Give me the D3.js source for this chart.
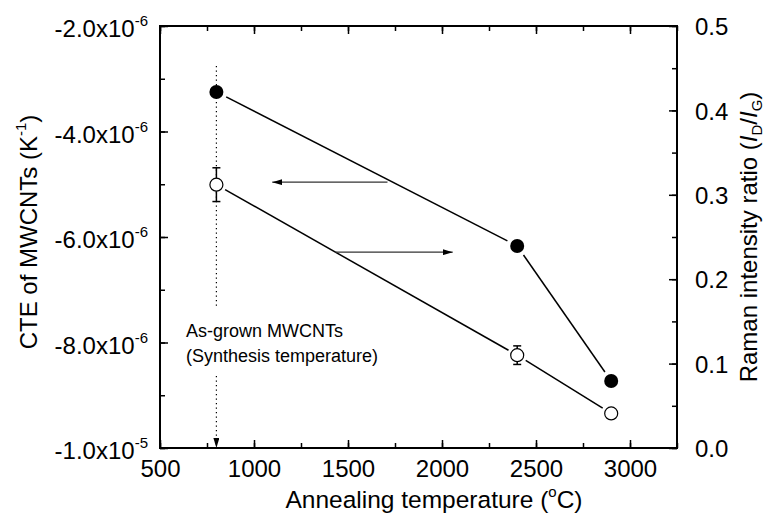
<!DOCTYPE html>
<html>
<head>
<meta charset="utf-8">
<script src="https://cdn.jsdelivr.net/npm/d3@7"></script>
<style>
  body { margin: 0; background: #fff; }
  svg { font-family: "Liberation Sans", Arial, sans-serif; }
</style>
</head>
<body>
<svg id="chart" width="769" height="518"></svg>
<script>
// data
var temps = [800, 2400, 2900];
var cteValues = [-3.25e-6, -6.17e-6, -8.73e-6];
var ramanValues = [0.312, 0.110, 0.041];
var ramanErrors = [0.02, 0.011, 0];

var xTicks = [500, 1000, 1500, 2000, 2500, 3000];
var cteTicks = [-2e-6, -4e-6, -6e-6, -8e-6, -1e-5];
var cteTickLabels = [["-2.0x10", "-6"], ["-4.0x10", "-6"], ["-6.0x10", "-6"], ["-8.0x10", "-6"], ["-1.0x10", "-5"]];
var ramanTicks = [0, 0.1, 0.2, 0.3, 0.4, 0.5];

// annotations (data units)
var synthesisTemp = 800;
var leftArrow = {from: 1710, to: 1097, y: -4.96e-6};
var rightArrow = {from: 1433, to: 2057, y: 0.232};

var margin = {top: 26, right: 92, bottom: 70, left: 160};
var width = 769 - margin.left - margin.right;
var height = 518 - margin.top - margin.bottom;

var svg = d3.select("#chart");
var defs = svg.append("defs");
defs.append("marker")
    .attr("id", "head")
    .attr("viewBox", "0 0 10 6")
    .attr("refX", 10).attr("refY", 3)
    .attr("markerWidth", 10).attr("markerHeight", 6)
    .attr("markerUnits", "userSpaceOnUse")
    .attr("orient", "auto")
    .append("path").attr("d", "M0,0L10,3L0,6Z").attr("fill", "#000");

var g = svg.append("g").attr("transform", "translate(" + margin.left + "," + margin.top + ")");

var x = d3.scaleLinear().domain([500, 3250]).range([0, width]);
var yL = d3.scaleLinear().domain([-1e-5, -2e-6]).range([height, 0]);
var yR = d3.scaleLinear().domain([0, 0.5]).range([height, 0]);

function minorTicks(scale, step) {
    var d = scale.domain(), out = [];
    for (var v = d[0]; v <= d[1] + 1e-12; v += step) out.push(v);
    return out;
}

// axes: ticks point inward
function styleAxis(sel) {
    sel.select(".domain").remove();
    sel.selectAll("line").attr("stroke", "#000").attr("stroke-width", 1.5);
    sel.selectAll("text").attr("font-size", 24).attr("fill", "#000");
}

// x bottom
var xMinor = minorTicks(x, 250);
g.append("g").attr("transform", "translate(0," + height + ")")
    .call(d3.axisBottom(x).tickValues(xMinor).tickSize(-5).tickFormat(""))
    .call(styleAxis);
g.append("g").attr("transform", "translate(0," + height + ")")
    .call(d3.axisBottom(x).tickValues(xTicks).tickSize(-8).tickPadding(22).tickFormat(d3.format("d")))
    .call(styleAxis)
    .selectAll("text").attr("dy", "0.3em");
// x top mirror
g.append("g")
    .call(d3.axisTop(x).tickValues(xMinor).tickSize(-5).tickFormat(""))
    .call(styleAxis);
g.append("g")
    .call(d3.axisTop(x).tickValues(xTicks).tickSize(-8).tickFormat(""))
    .call(styleAxis);

// left axis
g.append("g")
    .call(d3.axisLeft(yL).tickValues(minorTicks(yL, 1e-6)).tickSize(-5).tickFormat(""))
    .call(styleAxis);
var leftAx = g.append("g")
    .call(d3.axisLeft(yL).tickValues(cteTicks).tickSize(-8).tickPadding(22).tickFormat(""))
    .call(styleAxis);
leftAx.selectAll(".tick").append("text")
    .attr("x", -12).attr("dy", "0.45em")
    .attr("text-anchor", "end").attr("font-size", 24).attr("fill", "#000")
    .each(function (d, i) {
        var t = d3.select(this);
        t.append("tspan").text(cteTickLabels[i][0]);
        t.append("tspan").attr("font-size", 15).attr("dy", "-0.75em").text(cteTickLabels[i][1]);
    });

// right axis
g.append("g").attr("transform", "translate(" + width + ",0)")
    .call(d3.axisRight(yR).tickValues(minorTicks(yR, 0.05)).tickSize(-5).tickFormat(""))
    .call(styleAxis);
g.append("g").attr("transform", "translate(" + width + ",0)")
    .call(d3.axisRight(yR).tickValues(ramanTicks).tickSize(-8).tickPadding(18).tickFormat(d3.format(".1f")))
    .call(styleAxis)
    .selectAll("text").attr("dy", "0.36em");

// frame
g.append("rect").attr("width", width).attr("height", height)
    .attr("fill", "none").attr("stroke", "#000").attr("stroke-width", 2);

// dotted guide at synthesis temperature, broken around the note
var gx = x(synthesisTemp);
g.append("line").attr("x1", gx).attr("x2", gx).attr("y1", 40).attr("y2", 282)
    .attr("stroke", "#000").attr("stroke-width", 1.2).attr("stroke-dasharray", "1.2,3.3");
g.append("line").attr("x1", gx).attr("x2", gx).attr("y1", 350).attr("y2", height)
    .attr("stroke", "#000").attr("stroke-width", 1.2).attr("stroke-dasharray", "1.2,3.3")
    .attr("marker-end", "url(#head)");

var note = g.append("text").attr("x", 26).attr("y", 311).attr("font-size", 18);
note.append("tspan").attr("x", 26).text("As-grown MWCNTs");
note.append("tspan").attr("x", 26).attr("dy", 25).text("(Synthesis temperature)");

// series lines with small gaps at markers
function gappedSegments(xs, ys, gap) {
    var segs = [];
    for (var i = 0; i < xs.length - 1; i++) {
        var x1 = xs[i], y1 = ys[i], x2 = xs[i + 1], y2 = ys[i + 1];
        var dx = x2 - x1, dy = y2 - y1, len = Math.sqrt(dx * dx + dy * dy);
        var ux = dx / len, uy = dy / len;
        segs.push([x1 + ux * gap, y1 + uy * gap, x2 - ux * gap, y2 - uy * gap]);
    }
    return segs;
}

var cteX = temps.map(x), cteY = cteValues.map(yL);
var raX = temps.map(x), raY = ramanValues.map(yR);

g.selectAll(".cteSeg").data(gappedSegments(cteX, cteY, 11)).enter().append("line")
    .attr("x1", function (d) { return d[0]; }).attr("y1", function (d) { return d[1]; })
    .attr("x2", function (d) { return d[2]; }).attr("y2", function (d) { return d[3]; })
    .attr("stroke", "#000").attr("stroke-width", 1.5);
g.selectAll(".raSeg").data(gappedSegments(raX, raY, 10)).enter().append("line")
    .attr("x1", function (d) { return d[0]; }).attr("y1", function (d) { return d[1]; })
    .attr("x2", function (d) { return d[2]; }).attr("y2", function (d) { return d[3]; })
    .attr("stroke", "#000").attr("stroke-width", 1.5);

// error bars on Raman
temps.forEach(function (t, i) {
    if (!ramanErrors[i]) return;
    var cx = x(t), y1 = yR(ramanValues[i] + ramanErrors[i]), y2 = yR(ramanValues[i] - ramanErrors[i]);
    g.append("line").attr("x1", cx).attr("x2", cx).attr("y1", y1).attr("y2", y2)
        .attr("stroke", "#000").attr("stroke-width", 1.5);
    [y1, y2].forEach(function (yy) {
        g.append("line").attr("x1", cx - 4).attr("x2", cx + 4).attr("y1", yy).attr("y2", yy)
            .attr("stroke", "#000").attr("stroke-width", 1.5);
    });
});

g.selectAll(".cteDot").data(temps).enter().append("circle")
    .attr("cx", function (d) { return x(d); })
    .attr("cy", function (d, i) { return yL(cteValues[i]); })
    .attr("r", 7).attr("fill", "#000");
g.selectAll(".raDot").data(temps).enter().append("circle")
    .attr("cx", function (d) { return x(d); })
    .attr("cy", function (d, i) { return yR(ramanValues[i]); })
    .attr("r", 6.5).attr("fill", "#fff").attr("stroke", "#000").attr("stroke-width", 1.2);

// direction arrows
g.append("line")
    .attr("x1", x(leftArrow.from)).attr("x2", x(leftArrow.to))
    .attr("y1", yL(leftArrow.y)).attr("y2", yL(leftArrow.y))
    .attr("stroke", "#333").attr("stroke-width", 1.3).attr("marker-end", "url(#head)");
g.append("line")
    .attr("x1", x(rightArrow.from)).attr("x2", x(rightArrow.to))
    .attr("y1", yR(rightArrow.y)).attr("y2", yR(rightArrow.y))
    .attr("stroke", "#333").attr("stroke-width", 1.3).attr("marker-end", "url(#head)");

// axis titles
var xt = svg.append("text").attr("x", margin.left + width * 0.53).attr("y", 508)
    .attr("text-anchor", "middle").attr("font-size", 24.5);
xt.append("tspan").text("Annealing temperature (");
xt.append("tspan").attr("font-size", 15).attr("dy", "-0.75em").text("o");
xt.append("tspan").attr("dy", "0.47em").text("C)");

var lt = svg.append("text").attr("transform", "translate(37,232) rotate(-90)")
    .attr("text-anchor", "middle").attr("font-size", 24);
lt.append("tspan").text("CTE of MWCNTs (K");
lt.append("tspan").attr("font-size", 15).attr("dy", "-0.75em").text("-1");
lt.append("tspan").attr("dy", "0.47em").text(")");

var rt = svg.append("text").attr("transform", "translate(757,237) rotate(-90)")
    .attr("text-anchor", "middle").attr("font-size", 24);
rt.append("tspan").text("Raman intensity ratio (");
rt.append("tspan").attr("font-style", "italic").text("I");
rt.append("tspan").attr("font-size", 15).attr("dy", "0.35em").text("D");
rt.append("tspan").attr("dy", "-0.22em").text("/");
rt.append("tspan").attr("font-style", "italic").text("I");
rt.append("tspan").attr("font-size", 15).attr("dy", "0.35em").text("G");
rt.append("tspan").attr("dy", "-0.22em").text(")");
</script>
</body>
</html>
